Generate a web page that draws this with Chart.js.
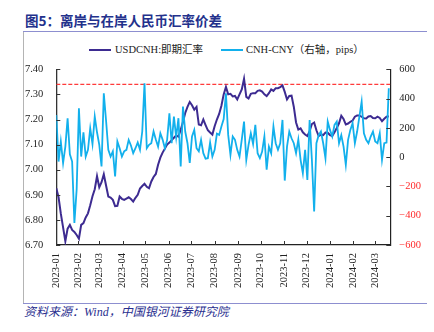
<!DOCTYPE html>
<html>
<head>
<meta charset="utf-8">
<script src="https://cdn.jsdelivr.net/npm/chart.js@4.4.1/dist/chart.umd.min.js"></script>
<style>
  html, body { margin: 0; padding: 0; background: #fff; }
  #hoja { position: relative; width: 434px; height: 332px; overflow: hidden; }
  #titulo { position: absolute; left: 25px; top: 13px; font: bold 13.5px "Noto Sans CJK SC"; line-height: 15px; color: #23318c; white-space: nowrap; }
  .raya { position: absolute; background: #8d8fd0; }
  #linea-sup { left: 23px; top: 31px; width: 404px; height: 1px; }
  #linea-inf { left: 23px; top: 303px; width: 404px; height: 1px; }
  #linea-izq { left: 23px; top: 32px; width: 1px; height: 271px; background: #b4b4b4; }
  #caja { position: absolute; left: 23px; top: 32px; width: 404px; height: 271px; }
  .muestra { position: absolute; top: 49px; width: 22px; height: 2px; }
  .etiqueta { position: absolute; top: 44px; font: 10.5px "Liberation Serif", "Noto Sans CJK SC"; line-height: 12px; color: #222; white-space: nowrap; }
  #fuente { position: absolute; left: 24px; top: 306px; font: italic 12px "Liberation Serif", "Noto Sans CJK SC"; line-height: 13px; color: #2a2f8f; white-space: nowrap; }
</style>
</head>
<body>
<div id="hoja">
  <div id="titulo">图5：离岸与在岸人民币汇率价差</div>
  <div class="raya" id="linea-sup"></div>
  <div class="raya" id="linea-izq"></div>
  <div class="muestra" style="left:89px; background:#3d2b91;"></div>
  <div class="etiqueta" style="left:115px;">USDCNH:即期汇率</div>
  <div class="muestra" style="left:221px; background:#12b0ec;"></div>
  <div class="etiqueta" style="left:246px;">CNH-CNY（右轴，pips）</div>
  <div id="caja"><canvas id="grafica" width="404" height="271"></canvas></div>
  <div class="raya" id="linea-inf"></div>
  <div id="fuente">资料来源：Wind，中国银河证券研究院</div>
</div>
<script>
// --- Fechas (cada 3 días) ---
const fechas = [
  '2023-01-03','2023-01-06','2023-01-09','2023-01-12','2023-01-15','2023-01-18','2023-01-21','2023-01-24','2023-01-27','2023-01-30',
  '2023-02-02','2023-02-05','2023-02-08','2023-02-11','2023-02-14','2023-02-17','2023-02-20','2023-02-23','2023-02-26',
  '2023-03-01','2023-03-04','2023-03-07','2023-03-10','2023-03-13','2023-03-16','2023-03-19','2023-03-22','2023-03-25','2023-03-28','2023-03-31',
  '2023-04-03','2023-04-06','2023-04-09','2023-04-12','2023-04-15','2023-04-18','2023-04-21','2023-04-24','2023-04-27','2023-04-30',
  '2023-05-03','2023-05-06','2023-05-09','2023-05-12','2023-05-15','2023-05-18','2023-05-21','2023-05-24','2023-05-27','2023-05-30',
  '2023-06-02','2023-06-05','2023-06-08','2023-06-11','2023-06-14','2023-06-17','2023-06-20','2023-06-23','2023-06-26','2023-06-29',
  '2023-07-02','2023-07-05','2023-07-08','2023-07-11','2023-07-14','2023-07-17','2023-07-20','2023-07-23','2023-07-26','2023-07-29',
  '2023-08-01','2023-08-04','2023-08-07','2023-08-10','2023-08-13','2023-08-16','2023-08-19','2023-08-22','2023-08-25','2023-08-28','2023-08-31',
  '2023-09-03','2023-09-06','2023-09-09','2023-09-12','2023-09-15','2023-09-18','2023-09-21','2023-09-24','2023-09-27','2023-09-30',
  '2023-10-03','2023-10-06','2023-10-09','2023-10-12','2023-10-15','2023-10-18','2023-10-21','2023-10-24','2023-10-27','2023-10-30',
  '2023-11-02','2023-11-05','2023-11-08','2023-11-11','2023-11-14','2023-11-17','2023-11-20','2023-11-23','2023-11-26','2023-11-29',
  '2023-12-02','2023-12-05','2023-12-08','2023-12-11','2023-12-14','2023-12-17','2023-12-20','2023-12-23','2023-12-26','2023-12-29',
  '2024-01-01','2024-01-04','2024-01-07','2024-01-10','2024-01-13','2024-01-16','2024-01-19','2024-01-22','2024-01-25','2024-01-28','2024-01-31',
  '2024-02-03','2024-02-06','2024-02-09','2024-02-12','2024-02-15','2024-02-18','2024-02-21','2024-02-24','2024-02-27',
  '2024-03-01','2024-03-04','2024-03-07','2024-03-10','2024-03-13','2024-03-16','2024-03-19'
];

// --- USDCNH 即期汇率 (eje izquierdo) ---
const usdcnh = [
  6.926, 6.890, 6.825, 6.770, 6.715, 6.765, 6.780, 6.760, 6.752, 6.740,
  6.725, 6.780, 6.787, 6.810, 6.826, 6.858, 6.894, 6.922, 6.974,
  6.930, 6.950, 6.982, 6.937, 6.893, 6.889, 6.880, 6.855, 6.856, 6.893, 6.884,
  6.880, 6.885, 6.890, 6.883, 6.873, 6.888, 6.900, 6.925, 6.935, 6.944,
  6.932, 6.926, 6.953, 6.971, 6.983, 7.020, 7.048, 7.068, 7.084, 7.100,
  7.108, 7.118, 7.127, 7.136, 7.132, 7.159, 7.190, 7.226, 7.250, 7.270,
  7.257, 7.239, 7.250, 7.180, 7.177, 7.200, 7.178, 7.157, 7.148, 7.140,
  7.173, 7.200, 7.222, 7.255, 7.300, 7.330, 7.300, 7.302, 7.292, 7.294, 7.280,
  7.300, 7.320, 7.362, 7.290, 7.284, 7.302, 7.305, 7.305, 7.314, 7.316,
  7.311, 7.300, 7.293, 7.305, 7.320, 7.314, 7.325, 7.325, 7.329, 7.336,
  7.310, 7.280, 7.294, 7.295, 7.251, 7.188, 7.160, 7.165, 7.149, 7.140,
  7.134, 7.154, 7.182, 7.188, 7.157, 7.134, 7.140, 7.138, 7.148, 7.147,
  7.138, 7.134, 7.149, 7.166, 7.185, 7.215, 7.202, 7.180, 7.184, 7.191, 7.196,
  7.211, 7.216, 7.216, 7.211, 7.205, 7.204, 7.212, 7.214, 7.206,
  7.205, 7.211, 7.206, 7.193, 7.203, 7.211, 7.213
];

// --- CNH-CNY en pips (eje derecho) ---
const diferencial = [
  288, -30, 107, -40, 72, 266, 20, -30, -450, -220,
  334, 4, 170, 4, 50, 197, 90, 277, 170,
  84, -64, 436, 250, 50, 4, 40, -132, 107, 61, 4,
  40, 50, 118, 80, 27, 61, 100, 50, 175, 504,
  61, 84, 95, 175, 120, 72, 163, 120, 61, 118,
  300, 95, 277, 135, 266, -64, 345, 175, 95, -40,
  141, 186, 61, 40, 118, 27, -10, -7, 100, 4,
  50, 160, 152, 209, 260, 436, 152, 16, 141, 118, 50,
  4, 120, 243, -18, 84, 163, 90, 220, 27, -7,
  38, 141, -86, 72, 27, 209, 95, 50, 95, 254,
  -160, 72, 175, 129, 95, 27, 120, -18, -109, 50,
  -155, 254, -18, -371, 95, 150, 175, 95, -7, 243,
  186, 141, 220, 243, 95, 150, 72, -52, 118, 186, 232,
  95, 175, 277, 379, 163, 118, 95, 141, 175,
  107, 95, 163, -18, 95, 100, 470
];

// --- Ejes y línea de referencia ---
const etiquetasMes = ['2023-01','2023-02','2023-03','2023-04','2023-05','2023-06','2023-07','2023-08',
                      '2023-09','2023-10','2023-11','2023-12','2024-01','2024-02','2024-03'];
const ticksIzq = [6.70, 6.80, 6.90, 7.00, 7.10, 7.20, 7.30, 7.40];
const ticksDer = [-600, -400, -200, 0, 200, 400, 600];
const nivelRef = 7.34;
const inicioEje = '2023-01-03';
const finEje = '2024-03-21';

const base = Date.parse('2023-01-01');
const dia = f => (Date.parse(f) - base) / 864e5;
const xMin = dia(inicioEje);
const xMax = dia(finEje);

const puntosCnh = fechas.map((f, i) => ({ x: dia(f), y: usdcnh[i] }));
const puntosDif = fechas.map((f, i) => ({ x: dia(f), y: diferencial[i] }));

// marcas de graduación hacia adentro del área
const marcasInternas = {
  id: 'marcasInternas',
  afterDraw(chart) {
    const { ctx, chartArea: a, scales } = chart;
    ctx.save();
    ctx.strokeStyle = '#333';
    ctx.lineWidth = 1;
    ctx.beginPath();
    scales.x.ticks.forEach(t => {
      const px = Math.round(scales.x.getPixelForValue(t.value)) + 0.5;
      ctx.moveTo(px, a.bottom); ctx.lineTo(px, a.bottom - 4);
    });
    scales.y.ticks.forEach(t => {
      const py = Math.round(scales.y.getPixelForValue(t.value)) + 0.5;
      ctx.moveTo(a.left, py); ctx.lineTo(a.left + 4, py);
    });
    scales.y1.ticks.forEach(t => {
      const py = Math.round(scales.y1.getPixelForValue(t.value)) + 0.5;
      ctx.moveTo(a.right, py); ctx.lineTo(a.right - 4, py);
    });
    ctx.stroke();
    ctx.restore();
  }
};

Chart.defaults.font.family = "'Liberation Serif', 'Noto Sans CJK SC'";
Chart.defaults.font.size = 10.5;
Chart.defaults.color = '#222';

new Chart(document.getElementById('grafica'), {
  type: 'line',
  data: {
    datasets: [
      {
        label: 'CNH-CNY（右轴，pips）',
        data: puntosDif,
        yAxisID: 'y1',
        borderColor: '#12b0ec',
        borderWidth: 1.8,
        pointRadius: 0,
        tension: 0,
        order: 1
      },
      {
        label: 'USDCNH:即期汇率',
        data: puntosCnh,
        yAxisID: 'y',
        borderColor: '#3d2b91',
        borderWidth: 2,
        pointRadius: 0,
        tension: 0,
        order: 2
      },
      {
        label: 'ref',
        data: [{ x: xMin, y: nivelRef }, { x: xMax, y: nivelRef }],
        yAxisID: 'y',
        borderColor: '#ff3b3b',
        borderWidth: 1.2,
        borderDash: [4, 2],
        pointRadius: 0,
        order: 3
      }
    ]
  },
  options: {
    responsive: false,
    animation: false,
    events: [],
    layout: { padding: { top: 37.3, left: 0, right: 0, bottom: 0 } },
    plugins: {
      legend: { display: false },
      tooltip: { enabled: false }
    },
    scales: {
      x: {
        type: 'linear',
        min: xMin,
        max: xMax,
        grid: { display: false, drawTicks: false },
        border: { display: true, color: '#222', width: 1.2 },
        afterBuildTicks: s => { s.ticks = etiquetasMes.map(m => ({ value: Math.max(dia(m + '-01'), xMin) })); },
        afterFit: s => { s.height = 58; },
        ticks: {
          autoSkip: false,
          minRotation: 90,
          maxRotation: 90,
          padding: 8,
          callback: (v, i) => etiquetasMes[i]
        }
      },
      y: {
        position: 'left',
        min: 6.7,
        max: 7.4,
        grid: { display: false, drawTicks: false },
        border: { display: true, color: '#333', width: 1.3 },
        afterBuildTicks: s => { s.ticks = ticksIzq.map(v => ({ value: v })); },
        afterFit: s => { s.width = 33.3; },
        ticks: { padding: 13, callback: v => v.toFixed(2) }
      },
      y1: {
        position: 'right',
        min: -600,
        max: 600,
        grid: { display: false, drawTicks: false },
        border: { display: true, color: '#222', width: 1.2 },
        afterBuildTicks: s => { s.ticks = ticksDer.map(v => ({ value: v })); },
        afterFit: s => { s.width = 36.7; },
        ticks: {
          padding: 9,
          color: c => (c.tick && c.tick.value < 0 ? '#ff2b2b' : '#222'),
          callback: v => (v < 0 ? '−' + Math.abs(v) : String(v))
        }
      }
    }
  },
  plugins: [marcasInternas]
});
</script>
</body>
</html>
